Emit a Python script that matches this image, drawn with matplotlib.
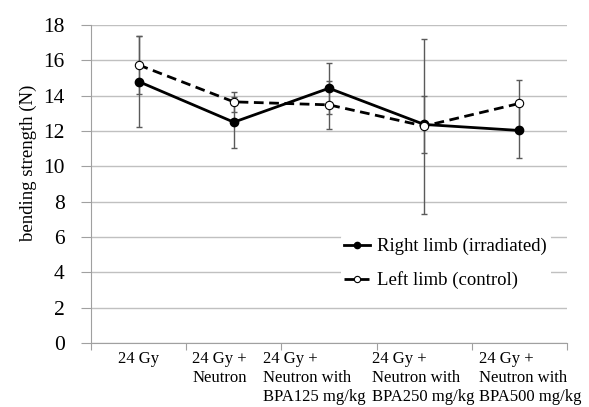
import matplotlib
matplotlib.use("Agg")
import matplotlib.pyplot as plt
import matplotlib.transforms as mtransforms

# data
groups = ["24 Gy", "24 Gy +\nNeutron", "24 Gy +\nNeutron with\nBPA125 mg/kg",
          "24 Gy +\nNeutron with\nBPA250 mg/kg", "24 Gy +\nNeutron with\nBPA500 mg/kg"]
right_mean = [14.8, 12.5, 14.42, 12.37, 12.03]
right_sd = [2.55, 1.45, 1.44, 1.63, 1.54]
left_mean = [15.74, 13.65, 13.48, 12.28, 13.56]
left_sd = [1.65, 0.58, 1.35, 4.95, 1.34]
yticks = [0, 2, 4, 6, 8, 10, 12, 14, 16, 18]

plt.rcParams['font.family'] = ['Liberation Serif', 'DejaVu Serif']

fig = plt.figure(figsize=(5.89, 4.07), dpi=100)
ax = fig.add_axes([0.1545, 0.1572, 0.8081, 0.7814])

x = list(range(len(groups)))
errcol = '#5a5a5a'

ax.errorbar(x, right_mean, yerr=right_sd, fmt='none', ecolor=errcol,
            elinewidth=1, capsize=2, capthick=1, zorder=2)
ax.errorbar(x, left_mean, yerr=left_sd, fmt='none', ecolor=errcol,
            elinewidth=1, capsize=2, capthick=1, zorder=2)
ax.plot(x, right_mean, color='black', lw=2, marker='o', ms=6,
        mfc='black', mec='black', label='Right limb (irradiated)', zorder=3)
ax.plot(x, left_mean, color='black', lw=2, ls=(0, (3.5, 2)), marker='o', ms=6,
        mfc='white', mec='black', mew=0.8, label='Left limb (control)', zorder=4)

ax.set_xlim(-0.5, len(groups) - 0.5)
ax.set_ylim(0, 18)
ax.set_yticks(yticks)
ax.yaxis.grid(True, color='#c0c0c0', lw=1)
ax.set_axisbelow(True)
for s in ['top', 'right']:
    ax.spines[s].set_visible(False)
ax.spines['left'].set_color('#a0a0a0')
ax.spines['bottom'].set_color('#a0a0a0')
ax.tick_params(axis='y', length=7, color='#a0a0a0', labelsize=15.5, pad=12)
ax.set_ylabel('bending strength (N)', fontsize=13.5)
ax.yaxis.set_label_coords(-0.113, 0.566)

# category ticks at bin boundaries, labels at centres
ax.set_xticks([i - 0.5 for i in range(len(groups) + 1)])
ax.set_xticklabels([])
ax.tick_params(axis='x', which='major', length=5, color='#a0a0a0')
ax.set_xticks(x, minor=True)
ax.set_xticklabels(groups, minor=True, fontsize=12, linespacing=1.25,
                   va='top', multialignment='left')
ax.tick_params(axis='x', which='minor', length=0, pad=6)
shifts = [0, -14, -15, -1, 11]
for lab, dx in zip(ax.get_xticklabels(minor=True), shifts):
    lab.set_transform(lab.get_transform() +
                      mtransforms.ScaledTranslation(dx / 100, 0, fig.dpi_scale_trans))

leg = ax.legend(loc='upper left', bbox_to_anchor=(0.505, 0.371), fontsize=13.5,
                frameon=True, edgecolor='none', facecolor='white', framealpha=1,
                handlelength=1.35, handletextpad=0.4, labelspacing=0.85,
                borderpad=0.2, markerscale=0.75)

fig.savefig('out.png', dpi=100)
